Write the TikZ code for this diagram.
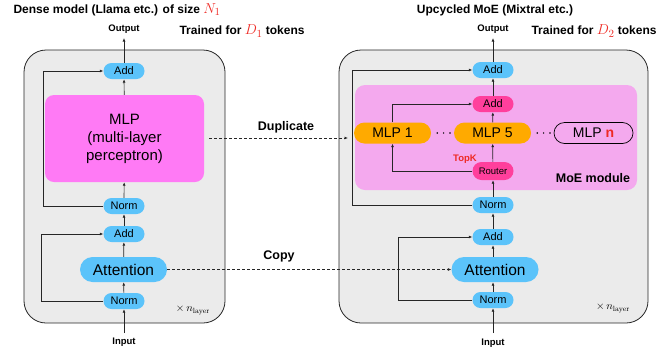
\documentclass[tikz,border=0pt]{standalone}
\usepackage{fontspec}
\setmainfont{Liberation Sans}
\usetikzlibrary{arrows.meta}
\definecolor{cblue}{HTML}{5BC3FA}
\definecolor{cmag}{HTML}{FF7AF5}
\definecolor{cpinkbg}{HTML}{F4A9EE}
\definecolor{chot}{HTML}{FF3F9C}
\definecolor{corange}{HTML}{FFAA00}
\definecolor{cgray}{HTML}{EBEBEB}
\definecolor{cred}{HTML}{EE2A24}
\newcommand{\redmath}[1]{{\color{cred}\fontsize{15}{16}\selectfont$#1$}}
\newcommand{\nlayer}{$\times\,n_{\mbox{\fontfamily{lmr}\fontsize{7.5}{8}\selectfont layer}}$}
\begin{document}
\begin{tikzpicture}[x=1pt,y=-1pt,
  blk/.style={draw=none, fill=cblue, inner sep=0, minimum width=41, minimum height=16, rounded corners=8, font=\fontsize{11}{13}\selectfont},
  hot/.style={blk, fill=chot},
  attn/.style={blk, minimum width=87, minimum height=25, rounded corners=12.5, font=\fontsize{15.5}{18}\selectfont},
  mlpbig/.style={fill=cmag, rounded corners=9, minimum width=159, minimum height=87, inner sep=0, align=center, font=\fontsize{15}{18}\selectfont},
  expert/.style={fill=corange, minimum width=77, minimum height=21, rounded corners=10.5, inner sep=0, font=\fontsize{14}{16}\selectfont},
  outerbox/.style={draw=black!85, fill=cgray, line width=0.8pt, rounded corners=22, inner sep=0},
  moebg/.style={fill=cpinkbg, rounded corners=10, inner sep=0},
  arr/.style={-{Latex[length=3.5pt,width=3pt]}, line width=0.7pt, draw=black!85},
  dasharr/.style={arr, dash pattern=on 3pt off 2pt},
  title/.style={font=\fontsize{12}{14}\selectfont\bfseries},
  io/.style={font=\fontsize{9.5}{11}\selectfont\bfseries},
  lbl/.style={font=\fontsize{12.5}{14}\selectfont\bfseries},
  dotrow/.style={line width=1.6pt, line cap=round, dash pattern=on 0pt off 6.4pt},
  nl/.style={font=\fontsize{11}{12}\selectfont}
]
\useasboundingbox (0,0) rectangle (660,354);

% titles
\node[title, anchor=west] (t1) at (10,10) {Dense model (Llama etc.) of size \redmath{N_1}};
\node[title, anchor=west] (t2) at (176,31) {Trained for \redmath{D_1} tokens};
\node[title] (t3) at (495,10) {Upcycled MoE (Mixtral etc.)};
\node[title, anchor=west] (t4) at (528,31) {Trained for \redmath{D_2} tokens};

% ---------- left model ----------
\node[outerbox, minimum width=201, minimum height=273] (L) at (124.5,186.5) {};
\node[io] (lout) at (124,29) {Output};
\coordinate (loutc) at (124,38);
\node[blk] (lAdd) at (124,71) {Add};
\node[mlpbig] (lMLP) at (124.5,138.5) {MLP\\(multi-layer\\perceptron)};
\node[blk] (lNorm1) at (124,206) {Norm};
\node[blk] (lAdd2) at (124,234) {Add};
\node[attn] (lAtt) at (123.5,269.5) {Attention};
\node[blk] (lNorm2) at (124,301) {Norm};
\node[io] (lin) at (124,342) {Input};
\coordinate (linc) at (124,333);
\node[nl] (lnl) at (193,310) {\nlayer};

\draw[arr] (linc) -- (lNorm2);
\draw[arr] (lNorm2) -- (lAtt);
\draw[arr] (lAtt) -- (lAdd2);
\draw[arr] (lAdd2) -- (lNorm1);
\draw[arr] (lNorm1) -- (lMLP);
\draw[arr] (lMLP) -- (lAdd);
\draw[arr] (lAdd) -- (loutc);
\coordinate (lr1) at (43,206);
\draw[arr] (lNorm1.west) -- (lr1) |- (lAdd.west);
\coordinate (lr2) at (41,301);
\draw[arr] (lNorm2.west) -- (lr2) |- (lAdd2.west);

% ---------- right model ----------
\node[outerbox, minimum width=309, minimum height=273] (R) at (493.5,186.5) {};
\node[moebg, minimum width=282, minimum height=105] (moe) at (496,137.5) {};
\node[font=\fontsize{12.5}{14}\selectfont\bfseries] (moelbl) at (593,178) {MoE module};
\node[io] (rout) at (493,29) {Output};
\coordinate (routc) at (493,38);
\node[blk] (rAdd) at (493,70) {Add};
\node[hot] (rAdd2) at (493,104) {Add};
\node[expert] (mlp1) at (392.5,133) {MLP 1};
\node[expert] (mlp5) at (492.5,133) {MLP 5};
\node[draw=black, line width=0.7pt, minimum width=79, minimum height=21, rounded corners=10.5, inner sep=0, font=\fontsize{14}{16}\selectfont] (mlpn) at (593.5,133) {MLP {\color{cred}\bfseries n}};
\node[hot, minimum height=18, rounded corners=9, font=\fontsize{9.5}{11}\selectfont] (router) at (493,171) {Router};
\node[font=\fontsize{9.5}{11}\selectfont\bfseries, text=cred] (topk) at (465,159) {TopK};
\node[blk] (rNorm1) at (493,205) {Norm};
\node[blk] (rAdd3) at (493,237) {Add};
\node[attn] (rAtt) at (495,269.5) {Attention};
\node[blk] (rNorm2) at (493,300) {Norm};
\node[io] (rin) at (493,343) {Input};
\coordinate (rinc) at (493,333);
\node[nl] (rnl) at (613,308) {\nlayer};

\draw[arr] (rinc) -- (rNorm2);
\draw[arr] (rNorm2) -- (rNorm2 |- rAtt.south);
\draw[arr] (rAtt.north -| rAdd3) -- (rAdd3);
\draw[arr] (rAdd3) -- (rNorm1);
\draw[arr] (rNorm1) -- (router);
\draw[arr] (router) -- (mlp5);
\draw[arr] (mlp5) -- (rAdd2);
\draw[arr] (rAdd2) -- (rAdd);
\draw[arr] (rAdd) -- (routc);
\draw[arr] (router.west) -| (mlp1.south);
\draw[arr] (mlp1.north) |- (rAdd2.west);
\coordinate (rr1) at (352,205);
\draw[arr] (rNorm1.west) -- (rr1) |- (rAdd.west);
\coordinate (rr2) at (398,300);
\draw[arr] (rNorm2.west) -- (rr2) |- (rAdd3.west);
\draw[dotrow, shorten <=6pt, shorten >=3pt] (mlp1.east) -- (mlp5.west);
\draw[dotrow, shorten <=6pt, shorten >=3pt] (mlp5.east) -- (mlpn.west);

% ---------- transfer arrows ----------
\coordinate (dupA) at (204,138);
\coordinate (dupB) at (354,138);
\draw[dasharr, shorten <=5pt, shorten >=6pt] (dupA) -- (dupB);
\node[lbl] (duplbl) at (286,127) {Duplicate};
\draw[dasharr] (lAtt.east) -- (rAtt.west);
\node[lbl] (copylbl) at (279,256) {Copy};
\end{tikzpicture}
\end{document}
